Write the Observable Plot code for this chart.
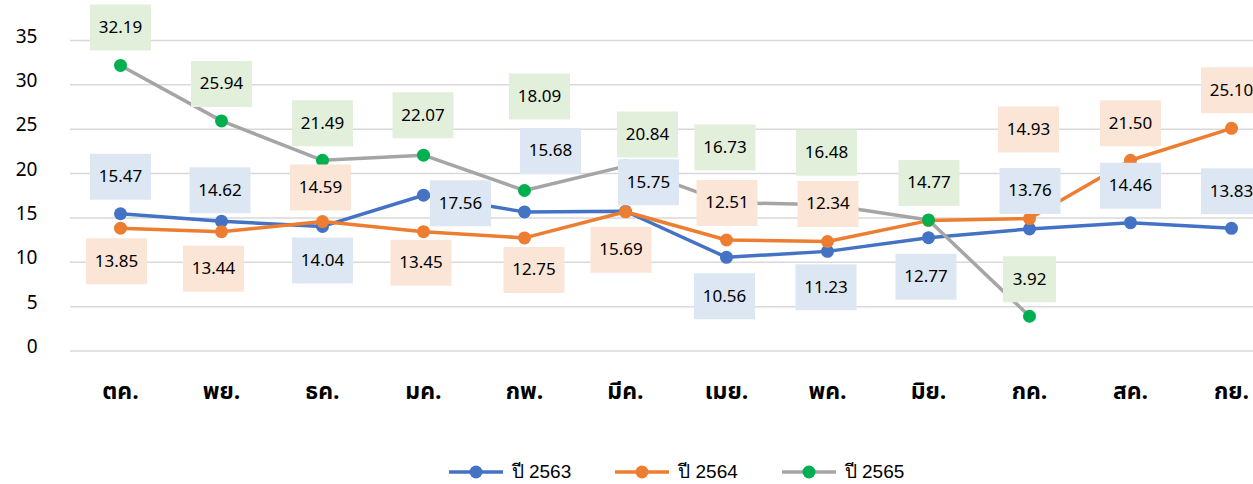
<!DOCTYPE html>
<html><head><meta charset="utf-8">
<script src="https://cdn.jsdelivr.net/npm/d3@7"></script>
<script src="https://cdn.jsdelivr.net/npm/@observablehq/plot@0.6"></script>
<style>
body{margin:0;background:#fff;font-family:"Noto Sans Thai","Noto Sans",Roboto,sans-serif;overflow:hidden;}
#chart{width:1253px;height:450px;overflow:hidden;}
#legend{width:1253px;height:34px;box-sizing:border-box;padding-left:100px;padding-top:11px;display:flex;justify-content:center;align-items:flex-start;gap:44px;}
.item{display:flex;align-items:center;height:22px;font-family:"Liberation Sans",Arial,sans-serif;font-size:19px;line-height:22px;color:#000;}
.item svg{margin-right:9px;}
</style></head><body>
<div id="chart"></div>
<div id="legend"></div>
<script>
// ---- data ----
const months = ["ตค.", "พย.", "ธค.", "มค.", "กพ.", "มีค.", "เมย.", "พค.", "มิย.", "กค.", "สค.", "กย."];
const seriesNames = ["ปี 2563", "ปี 2564", "ปี 2565"];
const values2563 = [15.47, 14.62, 14.04, 17.56, 15.68, 15.75, 10.56, 11.23, 12.77, 13.76, 14.46, 13.83];
const values2564 = [13.85, 13.44, 14.59, 13.45, 12.75, 15.69, 12.51, 12.34, 14.70, 14.93, 21.50, 25.10];
const values2565 = [32.19, 25.94, 21.49, 22.07, 18.09, 20.84, 16.73, 16.48, 14.77, 3.92, null, null];
const yTicks = [0, 5, 10, 15, 20, 25, 30, 35];

// ---- layout: data-label offsets (px) relative to each point; null = no label ----
const labelOffsets2563 = [[0,-37],[-1.5,-31],[0,34],[37,8],[26,-61],[23,-29],[-2,39],[-1.5,36],[-2.5,39],[0.5,-38],[0,-37],[0,-37]];
const labelOffsets2564 = [[-4,33],[-8,37],[-2,-34],[-2.5,31],[9.5,32],[-4.5,38],[0.5,-37],[0.5,-37.5],null,[-1,-89],[0,-37],[0,-38]];
const labelOffsets2565 = [[0,-38],[0,-37],[0,-37],[-0.5,-40],[15,-94],[22,-31.5],[-1.5,-55],[-1,-52],[0.5,-37],[0,-37],null,null];

// ---- styles ----
const lineColors = ["#4472C4", "#ED7D31", "#A5A5A5"];
const dotColors = ["#4472C4", "#ED7D31", "#00B050"];
const boxColors = ["#dde7f3", "#fbe5d6", "#e2efda"];

const allValues = [values2563, values2564, values2565];
const allOffsets = [labelOffsets2563, labelOffsets2564, labelOffsets2565];

const rows = allValues.map((vals, s) =>
  months.map((m, i) => ({month: m, value: vals[i], series: seriesNames[s], off: allOffsets[s][i], s}))
    .filter(d => d.value != null));

const boxSymbol = (w, h) => ({draw(ctx) { ctx.rect(-w / 2, -h / 2, w, h); }});

const seriesMarks = rows.flatMap((data, s) => [
  Plot.line(data, {x: "month", y: "value", stroke: lineColors[s], strokeWidth: 3.5}),
  Plot.dot(data, {x: "month", y: "value", fill: dotColors[s], r: 6.5})
]);

const labelMarks = rows.flat().filter(d => d.off).flatMap(d => {
  const txt = d.value.toFixed(2);
  const w = txt.length === 4 ? 53 : 61;
  return [
    Plot.dot([d], {x: "month", y: "value", symbol: boxSymbol(w, 46), fill: boxColors[d.s], dx: d.off[0], dy: d.off[1], r: 10}),
    Plot.text([d], {x: "month", y: "value", text: () => txt, dx: d.off[0], dy: d.off[1], fontSize: 17, fill: "#000"})
  ];
});

const chart = Plot.plot({
  width: 1253,
  height: 450,
  marginLeft: 70,
  marginRight: 0,
  marginTop: 40,
  marginBottom: 99.5,
  style: {fontFamily: '"Noto Sans Thai","Noto Sans",Roboto,sans-serif', background: "#fff", overflow: "visible"},
  x: {type: "point", domain: months, range: [120, 1231.5], padding: 0},
  y: {domain: [0, 35], range: [350.5, 40]},
  marks: [
    Plot.ruleY(yTicks, {stroke: "#d9d9d9", strokeWidth: 1.5}),
    Plot.axisY({ticks: yTicks, tickSize: 0, tickPadding: 33, fontSize: 19, fill: "#000", dy: -4, label: null}),
    Plot.axisX({tickSize: 0, tickPadding: 32, fontSize: 23, fontWeight: "bold", fill: "#000", label: null}),
    ...seriesMarks,
    ...labelMarks
  ]
});
document.getElementById("chart").appendChild(chart);

// ---- legend ----
const legend = document.getElementById("legend");
seriesNames.forEach((name, s) => {
  const item = document.createElement("div");
  item.className = "item";
  item.innerHTML = `<svg width="54" height="16"><line x1="0" x2="54" y1="8" y2="8" stroke="${lineColors[s]}" stroke-width="3.5"/><circle cx="27" cy="8" r="6.5" fill="${dotColors[s]}"/></svg><span>${name}</span>`;
  legend.appendChild(item);
});
</script>
</body></html>
